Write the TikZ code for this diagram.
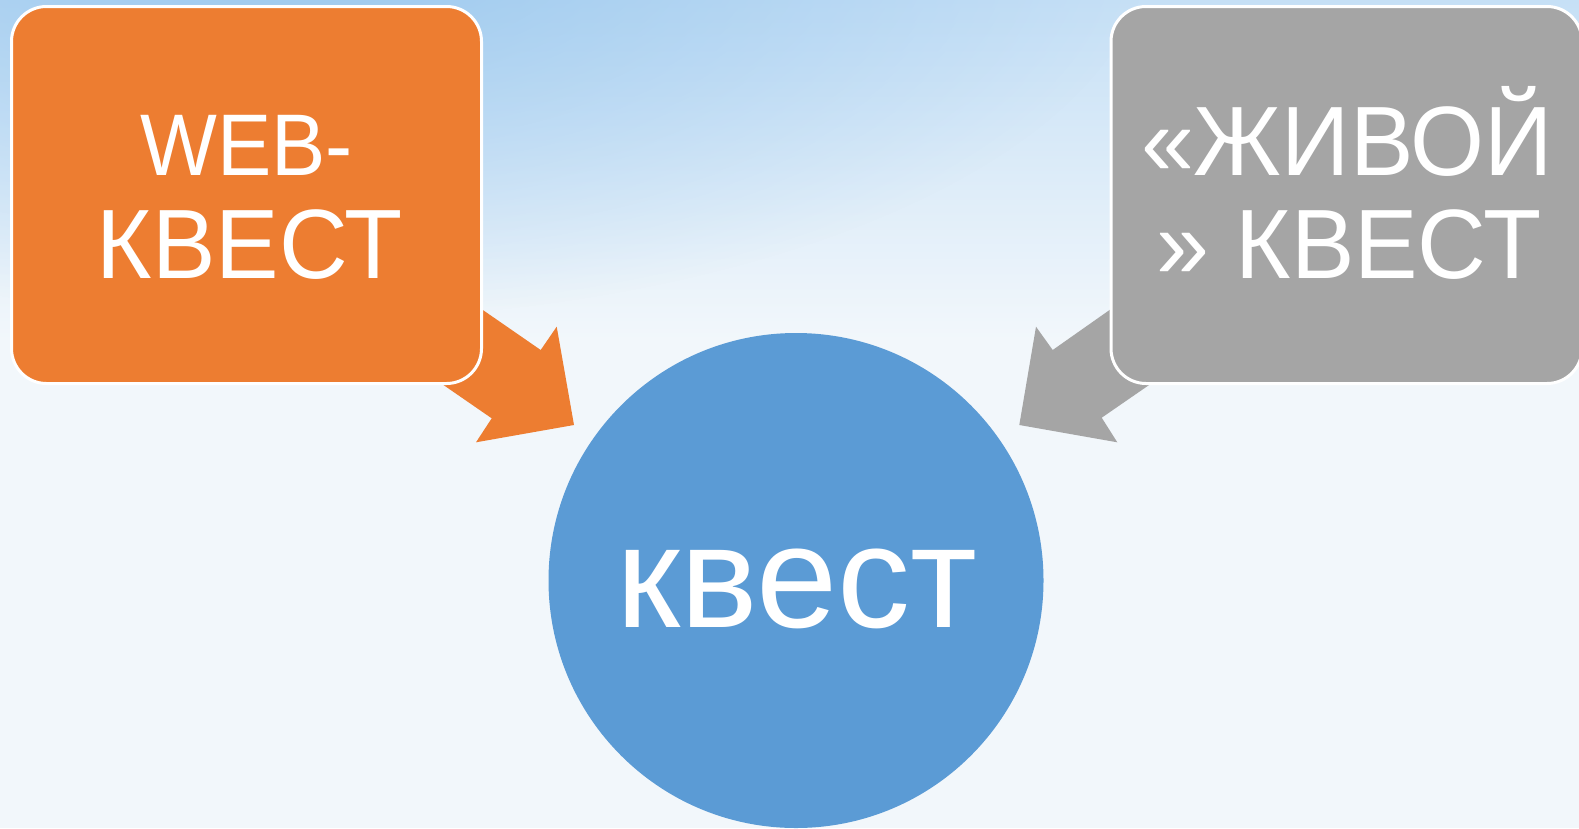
\documentclass[tikz,border=0pt]{standalone}
\usepackage{fontspec}
\setmainfont{Liberation Sans}
\newfontfamily\boxfont[FakeStretch=0.965]{Liberation Sans}
\newfontfamily\webfont[FakeStretch=0.93]{Liberation Sans}
\usetikzlibrary{fadings}
\definecolor{bgc}{HTML}{F2F7FB}
\definecolor{skyc}{HTML}{C6E0F6}
\definecolor{skyd}{HTML}{8EC1EC}
\definecolor{orng}{HTML}{ED7D31}
\definecolor{gry}{HTML}{A5A5A5}
\definecolor{blu}{HTML}{5B9BD5}
\tikzfading[name=skyfade, inner color=transparent!0, outer color=transparent!100]
\begin{document}
\begin{tikzpicture}[x=1pt,y=-1pt,
  box/.style={draw=white, line width=3pt, rounded corners=35pt},
  bigtext/.style={text=white, inner sep=0pt, anchor=base, font=\boxfont\fontsize{98.6}{100}\selectfont},
  webtext/.style={text=white, inner sep=0pt, anchor=base, font=\webfont\fontsize{87.5}{90}\selectfont},
  circtext/.style={text=white, inner sep=0pt, anchor=base, font=\fontsize{146}{150}\selectfont}]
\useasboundingbox (0,0) rectangle (1579,828);
\fill[bgc] (0,0) rectangle (1579,828);
\shade[top color=skyc, bottom color=bgc] (0,0) rectangle (1579,340);
\fill[skyd, path fading=skyfade, opacity=0.75] (300,-60) ellipse [x radius=850, y radius=380];
% arrows (behind boxes)
\fill[orng] (425,270) -- (540.7,350) -- (556.7,326.7) -- (574,425) -- (476,442.3) -- (491.7,418.3) -- (400,355) -- cycle;
\fill[gry] (1165,271) -- (1052.7,350) -- (1036,326.7) -- (1019.3,425) -- (1117.3,442.3) -- (1101.7,417.7) -- (1194,354) -- cycle;
% boxes
\draw[box, fill=orng] (11.5,6.5) rectangle (481.5,383.5);
\draw[box, fill=gry] (1111,6.5) rectangle (1582,383.5);
% circle
\node[circle, fill=blu, minimum size=495pt, inner sep=0pt] (quest) at (796,580.5) {};
% texts
\node[webtext] (w1) at (246.7,175) {WEB-};
\node[bigtext] (w2) at (250,278) {КВЕСТ};
\node[bigtext] (g1) at (1347,175) {«ЖИВОЙ};
\node[bigtext] (g2) at (1349,278.5) {» КВЕСТ};
\node[circtext] (c1) at (797,627) {квест};
\end{tikzpicture}
\end{document}
